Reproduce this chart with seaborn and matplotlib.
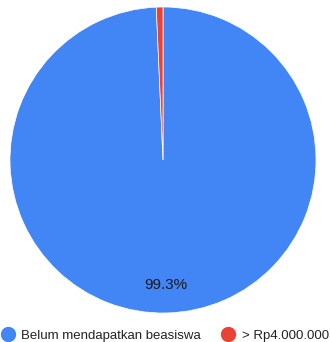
import matplotlib
matplotlib.use("Agg")
import matplotlib.pyplot as plt
from matplotlib.lines import Line2D
import seaborn as sns

categories = ["Belum mendapatkan beasiswa", "> Rp4.000.000"]
values = [99.3, 0.7]
colors = ["#4285F4", "#EA4335"]

sns.set_theme(style="white")
plt.rcParams['font.family'] = ['Liberation Sans', 'DejaVu Sans']

fig = plt.figure(figsize=(3.30, 3.42), dpi=100)
ax = fig.add_axes([10/330, (342-313)/342, 306/330, 306/342])

def fmt(p):
    return f"{p:.1f}%" if p > 5 else ""

wedges, texts, autotexts = ax.pie(
    values, colors=colors, startangle=90, counterclock=False,
    autopct=fmt, pctdistance=0.82,
    wedgeprops=dict(linewidth=0.5, edgecolor="white"),
    textprops=dict(fontsize=11, color="#1a1a1a"))
ax.set_xlim(-1, 1)
ax.set_ylim(-1, 1)
ax.set_aspect("equal")
ax.axis("off")

handles = [Line2D([0], [0], marker="o", linestyle="", markersize=10,
                  markerfacecolor=c, markeredgecolor=c) for c in colors]
fig.legend(handles, categories, loc="lower center", ncol=2, frameon=False,
           bbox_to_anchor=(0.5, -0.035), fontsize=9.5, handletextpad=0.5,
           columnspacing=1.6, labelcolor="#222222", handlelength=1.0)

fig.savefig("out.png", dpi=100)
